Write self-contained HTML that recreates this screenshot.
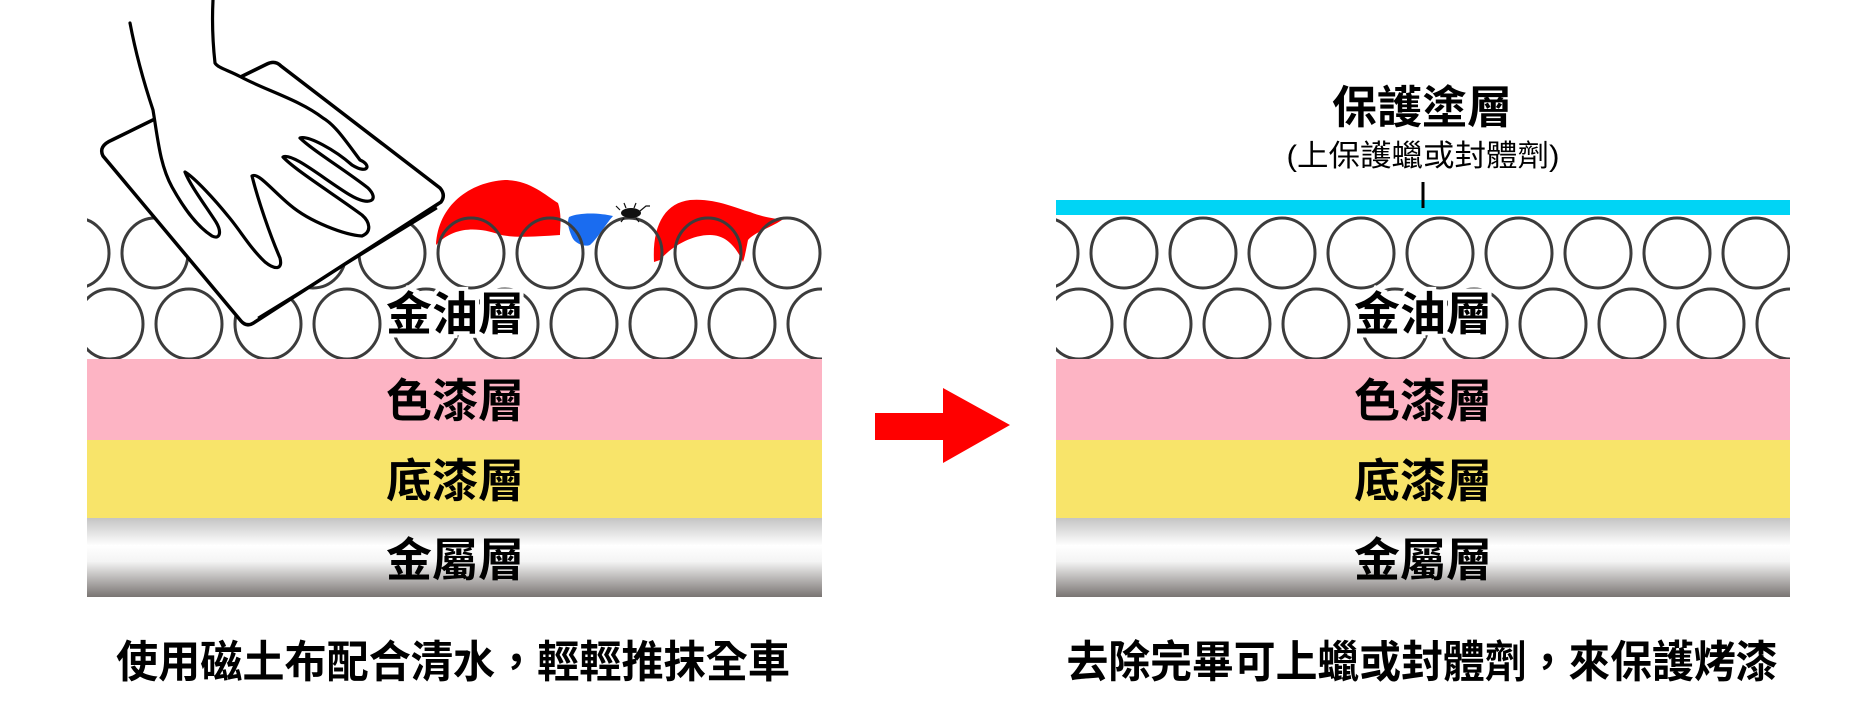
<!DOCTYPE html>
<html><head><meta charset="utf-8"><style>
html,body{margin:0;padding:0;background:#fff;}
svg{display:block;}
text{font-family:"Liberation Sans","Noto Sans CJK TC","Noto Sans CJK SC",sans-serif;}
</style></head><body>
<svg width="1875" height="719" viewBox="0 0 1875 719" xmlns="http://www.w3.org/2000/svg">
<defs>
<linearGradient id="metal" x1="0" y1="0" x2="0" y2="1">
<stop offset="0" stop-color="#c4c4c4"/>
<stop offset="0.35" stop-color="#ffffff"/>
<stop offset="0.55" stop-color="#f4f4f4"/>
<stop offset="1" stop-color="#797472"/>
</linearGradient>
<clipPath id="cl"><rect x="87" y="215" width="735" height="145"/></clipPath>
<clipPath id="cr"><rect x="1056" y="215" width="734" height="145"/></clipPath>
<g id="circles" fill="none" stroke="#3c3c3c" stroke-width="3">
<ellipse cx="76" cy="253" rx="33" ry="35"/><ellipse cx="155" cy="253" rx="33" ry="35"/><ellipse cx="234" cy="253" rx="33" ry="35"/><ellipse cx="313" cy="253" rx="33" ry="35"/><ellipse cx="392" cy="253" rx="33" ry="35"/><ellipse cx="471" cy="253" rx="33" ry="35"/><ellipse cx="550" cy="253" rx="33" ry="35"/><ellipse cx="629" cy="253" rx="33" ry="35"/><ellipse cx="708" cy="253" rx="33" ry="35"/><ellipse cx="787" cy="253" rx="33" ry="35"/>
<ellipse cx="110" cy="324" rx="33" ry="35"/><ellipse cx="189" cy="324" rx="33" ry="35"/><ellipse cx="268" cy="324" rx="33" ry="35"/><ellipse cx="347" cy="324" rx="33" ry="35"/><ellipse cx="426" cy="324" rx="33" ry="35"/><ellipse cx="505" cy="324" rx="33" ry="35"/><ellipse cx="584" cy="324" rx="33" ry="35"/><ellipse cx="663" cy="324" rx="33" ry="35"/><ellipse cx="742" cy="324" rx="33" ry="35"/><ellipse cx="821" cy="324" rx="33" ry="35"/>
</g>
</defs>

<!-- LEFT PANEL -->
<!-- dirt (behind circle outlines) -->
<path d="M436,245 C438,205 470,182 505,180 C530,180 545,195 558,203 C562,215 560,228 560,235 C530,237 510,238 498,234 C480,228 455,225 436,245 Z" fill="#ff0000"/>
<path d="M569,217 C580,212 600,213 613,216 C605,225 598,238 590,245 C585,247 575,244 572,237 C568,228 567,222 569,217 Z" fill="#1a6cf0"/>
<path d="M654,262 C652,225 665,203 690,200 C715,198 735,208 750,212 C765,218 775,218 782,220 C770,228 755,232 748,240 C746,250 745,256 743,262 C735,245 725,235 710,235 C690,235 670,248 660,260 Z" fill="#ff0000"/>
<g clip-path="url(#cl)"><use href="#circles"/></g>
<ellipse cx="631" cy="213" rx="10" ry="5" fill="#111"/>
<path d="M620,210 l-4,-4 M626,208 l-2,-5 M634,208 l2,-5 M640,211 l6,-5 l4,0 M624,218 l-3,4 M636,218 l3,4" stroke="#111" stroke-width="1.2" fill="none"/>
<rect x="87" y="359" width="735" height="82" fill="#fdb4c4"/>
<rect x="87" y="440" width="735" height="79" fill="#f8e46a"/>
<rect x="87" y="518" width="735" height="79" fill="url(#metal)"/>

<!-- cloth -->
<path d="M112,140 L267,64 Q275,60 281,66 L440,188 Q446,195 441,202 L255,322 Q247,328 241,321 L103,156 Q98,146 112,140 Z" fill="#fff" stroke="#000" stroke-width="3.5" stroke-linejoin="round"/>
<path d="M437,208 L258,318" stroke="#000" stroke-width="2.5" fill="none"/>
<!-- hand -->
<path d="M130,23 C137,60 148,95 153,110 C158,140 160,165 172,187 C182,205 195,225 212,236 C220,240 222,232 216,222 C205,205 190,185 185,172 C195,178 215,200 228,216 C240,230 250,248 265,262 C275,270 283,270 280,258 C270,235 258,200 252,176 C258,172 272,190 290,205 C310,222 345,235 362,236 C372,232 370,222 362,215 C335,195 295,170 283,157 C292,152 325,180 350,195 C370,207 380,200 368,188 C345,170 312,150 300,138 C308,135 335,150 352,165 C368,175 372,165 360,160 C345,140 335,125 323,118 C300,100 265,90 241,77 C228,70 218,68 215,63 C213,45 212,20 213,0" fill="#fff" stroke="#000" stroke-width="3.2" stroke-linejoin="round" stroke-linecap="round"/>

<text x="455" y="330" font-size="46" font-weight="bold" text-anchor="middle" fill="#000" stroke="#fff" stroke-width="8" paint-order="stroke">金油層</text>
<text x="455" y="417" font-size="46" font-weight="bold" text-anchor="middle" fill="#000">色漆層</text>
<text x="455" y="497" font-size="46" font-weight="bold" text-anchor="middle" fill="#000">底漆層</text>
<text x="455" y="576" font-size="46" font-weight="bold" text-anchor="middle" fill="#000">金屬層</text>
<text x="453" y="677" font-size="44" font-weight="bold" text-anchor="middle" fill="#000" textLength="674" lengthAdjust="spacingAndGlyphs">使用磁土布配合清水，輕輕推抹全車</text>

<!-- ARROW -->
<polygon points="875,413 943,413 943,388 1010,425 943,463 943,440 875,440" fill="#ff0000"/>

<!-- RIGHT PANEL -->
<g clip-path="url(#cr)"><use href="#circles" transform="translate(969,0)"/></g>
<rect x="1056" y="200" width="734" height="15" fill="#00d4f5"/>
<line x1="1423" y1="182" x2="1423" y2="208" stroke="#000" stroke-width="3"/>
<rect x="1056" y="359" width="734" height="82" fill="#fdb4c4"/>
<rect x="1056" y="440" width="734" height="79" fill="#f8e46a"/>
<rect x="1056" y="518" width="734" height="79" fill="url(#metal)"/>

<text x="1422" y="123" font-size="45" font-weight="bold" text-anchor="middle" fill="#000">保護塗層</text>
<text x="1423" y="166" font-size="30" text-anchor="middle" fill="#000" textLength="273" lengthAdjust="spacingAndGlyphs">(上保護蠟或封體劑)</text>
<text x="1423" y="330" font-size="46" font-weight="bold" text-anchor="middle" fill="#000" stroke="#fff" stroke-width="8" paint-order="stroke">金油層</text>
<text x="1423" y="417" font-size="46" font-weight="bold" text-anchor="middle" fill="#000">色漆層</text>
<text x="1423" y="497" font-size="46" font-weight="bold" text-anchor="middle" fill="#000">底漆層</text>
<text x="1423" y="576" font-size="46" font-weight="bold" text-anchor="middle" fill="#000">金屬層</text>
<text x="1422" y="677" font-size="44" font-weight="bold" text-anchor="middle" fill="#000" textLength="711" lengthAdjust="spacingAndGlyphs">去除完畢可上蠟或封體劑，來保護烤漆</text>
</svg>
</body></html>
